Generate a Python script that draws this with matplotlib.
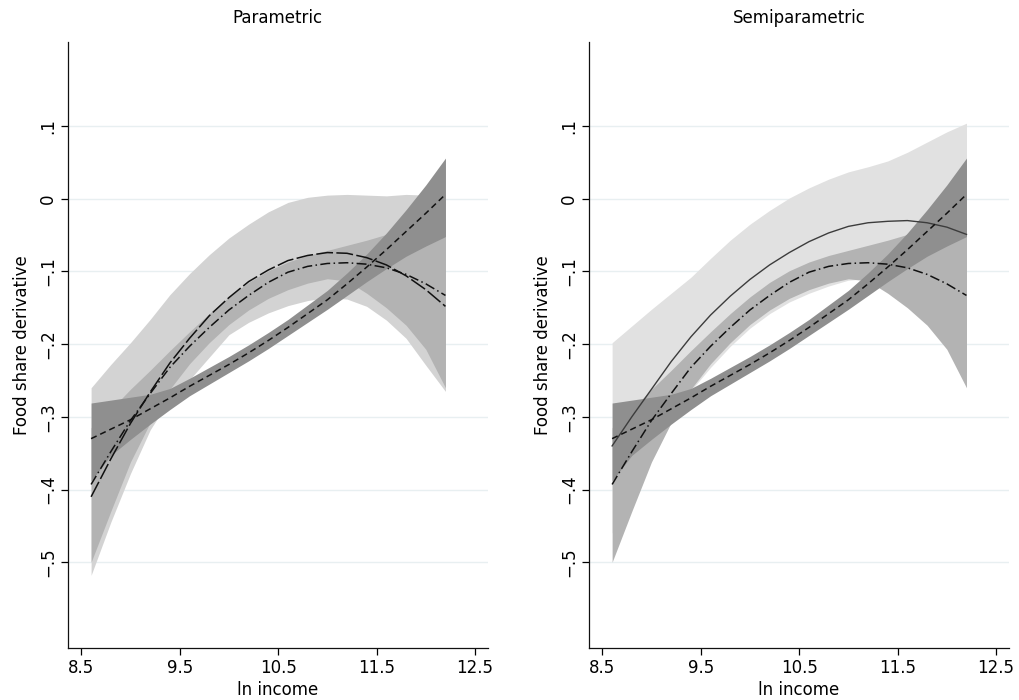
import numpy as np
import matplotlib
matplotlib.use("Agg")
import matplotlib.pyplot as plt

plt.rcParams['font.family'] = ['DejaVu Sans']

# income grid (ln income)
x = [8.6, 8.8, 9.0, 9.2, 9.4, 9.6, 9.8, 10.0, 10.2, 10.4,
     10.6, 10.8, 11.0, 11.2, 11.4, 11.6, 11.8, 12.0, 12.2]

# short dash line and its band (both panels)
lin_fit = [-0.330, -0.317, -0.304, -0.289, -0.274, -0.258, -0.243, -0.228, -0.212, -0.195,
           -0.177, -0.158, -0.139, -0.117, -0.094, -0.070, -0.045, -0.020, 0.006]
lin_hi = [-0.281, -0.277, -0.273, -0.269, -0.261, -0.247, -0.232, -0.217, -0.201, -0.184,
          -0.166, -0.146, -0.126, -0.102, -0.076, -0.047, -0.015, 0.019, 0.056]
lin_lo = [-0.388, -0.353, -0.331, -0.310, -0.290, -0.271, -0.255, -0.239, -0.223, -0.206,
          -0.188, -0.170, -0.152, -0.133, -0.114, -0.096, -0.079, -0.065, -0.052]

# dash-dot line and its band (both panels)
dd_fit = [-0.393, -0.348, -0.305, -0.268, -0.232, -0.203, -0.177, -0.153, -0.133, -0.115,
          -0.101, -0.093, -0.089, -0.088, -0.090, -0.095, -0.104, -0.117, -0.133]
dd_hi = [-0.315, -0.290, -0.262, -0.236, -0.209, -0.183, -0.158, -0.135, -0.115, -0.099,
         -0.087, -0.078, -0.071, -0.064, -0.057, -0.049, -0.042, -0.035, -0.027]
dd_lo = [-0.500, -0.430, -0.362, -0.308, -0.262, -0.227, -0.198, -0.173, -0.153, -0.137,
         -0.125, -0.116, -0.110, -0.113, -0.130, -0.150, -0.174, -0.207, -0.260]

# parametric panel: long dash line and light band
par_fit = [-0.410, -0.358, -0.309, -0.266, -0.226, -0.192, -0.161, -0.136, -0.114, -0.098,
           -0.085, -0.078, -0.074, -0.075, -0.081, -0.091, -0.106, -0.125, -0.148]
par_hi = [-0.260, -0.228, -0.198, -0.166, -0.132, -0.103, -0.077, -0.054, -0.035, -0.018,
          -0.005, 0.002, 0.005, 0.006, 0.005, 0.004, 0.006, 0.005, 0.005]
par_lo = [-0.518, -0.445, -0.378, -0.318, -0.275, -0.249, -0.218, -0.187, -0.170, -0.157,
          -0.147, -0.140, -0.136, -0.138, -0.148, -0.167, -0.192, -0.229, -0.265]

# semiparametric panel: solid line and light band
semi_fit = [-0.340, -0.300, -0.262, -0.224, -0.190, -0.160, -0.134, -0.111, -0.091, -0.074,
            -0.059, -0.047, -0.038, -0.033, -0.031, -0.030, -0.033, -0.039, -0.049]
semi_hi = [-0.198, -0.175, -0.152, -0.130, -0.108, -0.082, -0.057, -0.035, -0.016, 0.001,
           0.015, 0.027, 0.037, 0.044, 0.052, 0.064, 0.078, 0.092, 0.104]
semi_lo = [-0.460, -0.400, -0.345, -0.300, -0.264, -0.232, -0.203, -0.178, -0.158, -0.142,
           -0.130, -0.120, -0.112, -0.110, -0.122, -0.142, -0.166, -0.196, -0.240]

xticks = [8.5, 9.5, 10.5, 11.5, 12.5]
yticks = [0.1, 0.0, -0.1, -0.2, -0.3, -0.4, -0.5]
ytick_labels = [".1", "0", "\u2212.1", "\u2212.2", "\u2212.3", "\u2212.4", "\u2212.5"]

fig = plt.figure(figsize=(10.19, 7.0), dpi=100)
ax1 = fig.add_axes([0.0667, 0.0743, 0.412, 0.865])
ax2 = fig.add_axes([0.578, 0.0743, 0.412, 0.865])

panels = [
    (ax1, "Parametric", par_fit, par_lo, par_hi, "#d3d3d3", "long"),
    (ax2, "Semiparametric", semi_fit, semi_lo, semi_hi, "#e1e1e1", "solid"),
]

for ax, title, fit, lo, hi, light, style in panels:
    ax.set_axisbelow(True)
    for yt in yticks:
        ax.axhline(yt, color="#e8eff1", lw=1.0, zorder=0)

    ax.fill_between(x, lo, hi, color=light, lw=0, zorder=1)
    ax.fill_between(x, dd_lo, dd_hi, color="#b3b3b3", lw=0, zorder=2)
    ax.fill_between(x, lin_lo, lin_hi, color="#8f8f8f", lw=0, zorder=3)

    if style == "long":
        ax.plot(x, fit, color="#111111", lw=1.1, dashes=(11, 2.2), zorder=5)
    else:
        ax.plot(x, fit, color="#3c3c3c", lw=1.0, zorder=5)
    ax.plot(x, dd_fit, color="#111111", lw=1.1, dashes=(6.5, 2.2, 1, 2.2), zorder=5)
    ax.plot(x, lin_fit, color="#111111", lw=1.1, dashes=(4, 2.6), zorder=5)

    ax.set_xlim(8.365, 12.63)
    ax.set_ylim(-0.618, 0.215)
    ax.set_xticks(xticks)
    ax.set_xticklabels([str(v) for v in xticks])
    ax.set_yticks(yticks)
    ax.set_yticklabels(ytick_labels, rotation=90, va="center")
    ax.tick_params(axis="both", labelsize=12, length=5, width=0.9, direction="out", pad=3)

    for side in ["top", "right"]:
        ax.spines[side].set_visible(False)
    for side in ["left", "bottom"]:
        ax.spines[side].set_linewidth(0.9)
        ax.spines[side].set_color("#111111")

    ax.set_title(title, fontsize=12, pad=14)
    ax.set_xlabel("ln income", fontsize=12, labelpad=3)
    ax.set_ylabel("Food share derivative", fontsize=12, labelpad=6)

fig.savefig("out.png", dpi=100)
